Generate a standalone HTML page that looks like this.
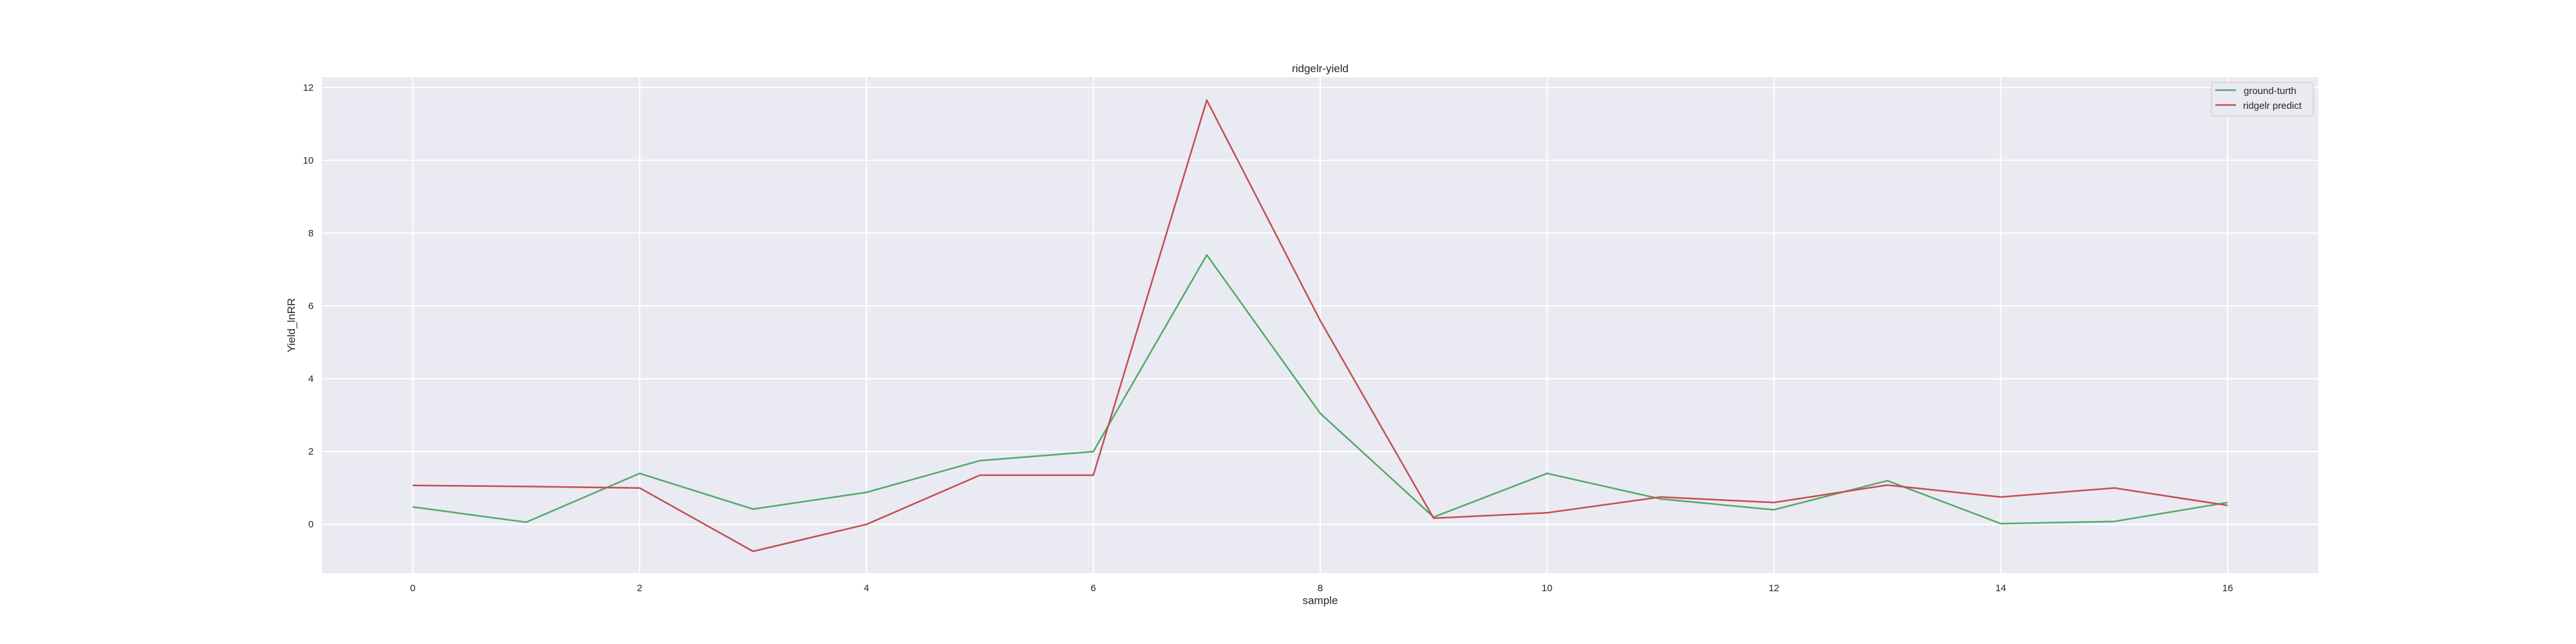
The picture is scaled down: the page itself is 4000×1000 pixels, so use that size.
<!DOCTYPE html>
<html><head><meta charset="utf-8"><style>html,body{margin:0;padding:0;background:#fff}svg{display:block}</style></head>
<body>
<svg id="chart" width="4000" height="1000" xmlns="http://www.w3.org/2000/svg" font-family="Liberation Sans, sans-serif">
<rect x="0" y="0" width="4000" height="1000" fill="#ffffff"/>
<rect x="500" y="120" width="3100" height="770" fill="#eaeaf2"/>
<g id="grid"></g>
<g id="series"></g>
<g id="ticks"></g>
<text x="2050" y="112" font-size="17" text-anchor="middle" fill="#262626">ridgelr-yield</text>
<text x="2050" y="938" font-size="17" text-anchor="middle" fill="#262626">sample</text>
<text transform="translate(458,505) rotate(-90)" font-size="17" text-anchor="middle" fill="#262626">Yield_lnRR</text>
<g>
<rect x="3434" y="128" width="158" height="52" rx="3" fill="#eaeaf2" stroke="#cccccc" stroke-width="1.2"/>
<line x1="3440" y1="140" x2="3472" y2="140" stroke="#55a868" stroke-width="2.5"/>
<text x="3484" y="146" font-size="15" fill="#262626">ground-turth</text>
<line x1="3440" y1="163" x2="3472" y2="163" stroke="#c44e52" stroke-width="2.5"/>
<text x="3483" y="169" font-size="15" fill="#262626">ridgelr predict</text>
</g>
</svg>
<script>
const samples = [0,1,2,3,4,5,6,7,8,9,10,11,12,13,14,15,16];
const groundTruth = [0.48,0.06,1.40,0.42,0.88,1.75,2.0,7.4,3.05,0.2,1.4,0.7,0.4,1.2,0.02,0.08,0.6];
const ridgePredict = [1.07,1.04,1.0,-0.74,0.0,1.35,1.35,11.65,5.6,0.17,0.32,0.75,0.6,1.08,0.75,1.0,0.52];
const xTicks = [0,2,4,6,8,10,12,14,16];
const yTicks = [0,2,4,6,8,10,12];
const NS = 'http://www.w3.org/2000/svg';
const L=500,R=3600,T=120,B=890, XMIN=-0.8,XMAX=16.8,YMIN=-1.34,YMAX=12.28;
function sx(v){return L+(v-XMIN)/(XMAX-XMIN)*(R-L);}
function sy(v){return B-(v-YMIN)/(YMAX-YMIN)*(B-T);}
function mk(tag,attrs,parent){const e=document.createElementNS(NS,tag);for(const k in attrs)e.setAttribute(k,attrs[k]);parent.appendChild(e);return e;}
const grid=document.getElementById('grid'),ticks=document.getElementById('ticks'),series=document.getElementById('series');
xTicks.forEach(t=>{
  const g=mk('line',{x1:sx(t),x2:sx(t),y1:T,y2:B,stroke:'#ffffff','stroke-width':2},grid);
  
  
  const tx=mk('text',{x:sx(t),y:918,'font-size':15,'text-anchor':'middle',fill:'#262626'},ticks);
  tx.textContent=t;
  
  
});
yTicks.forEach(t=>{
  const g=mk('line',{x1:L,x2:R,y1:sy(t),y2:sy(t),stroke:'#ffffff','stroke-width':2},grid);
  
  
  const tx=mk('text',{x:487,y:sy(t)+5,'font-size':15,'text-anchor':'end',fill:'#262626'},ticks);
  tx.textContent=t;
  
  
});
function line(vals,color,name){
  const d=vals.map((v,i)=>(i?'L':'M')+sx(samples[i]).toFixed(1)+','+sy(v).toFixed(1)).join(' ');
  const p=mk('path',{d:d,fill:'none',stroke:color,'stroke-width':2.5,'stroke-linejoin':'round'},series);
  
  
}
line(groundTruth,'#55a868','ground-truth-line');
line(ridgePredict,'#c44e52','ridgelr-predict-line');
</script>
</body></html>
